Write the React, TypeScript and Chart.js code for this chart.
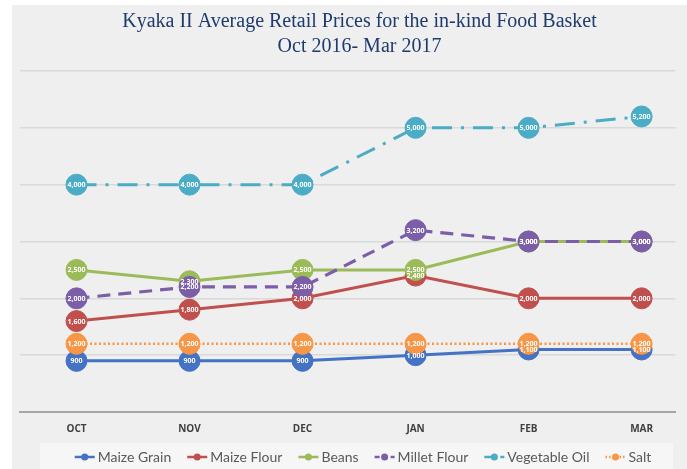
import React, { useEffect, useRef } from 'react';
import { Chart, registerables } from 'chart.js';

Chart.register(...registerables);

const categories = ['OCT', 'NOV', 'DEC', 'JAN', 'FEB', 'MAR'];
const seriesNames = ['Maize Grain', 'Maize Flour', 'Beans', 'Millet Flour', 'Vegetable Oil', 'Salt'];
const maizeGrain = [900, 900, 900, 1000, 1100, 1100];
const maizeFlour = [1600, 1800, 2000, 2400, 2000, 2000];
const beans = [2500, 2300, 2500, 2500, 3000, 3000];
const milletFlour = [2000, 2200, 2200, 3200, 3000, 3000];
const vegetableOil = [4000, 4000, 4000, 5000, 5000, 5200];
const salt = [1200, 1200, 1200, 1200, 1200, 1200];
const yMin = 0;
const yMax = 6000;
const yStep = 1000;
const titleLines = ['Kyaka II Average Retail Prices for the in-kind Food Basket', 'Oct 2016- Mar 2017'];

const seriesValues = [maizeGrain, maizeFlour, beans, milletFlour, vegetableOil, salt];
const seriesColors = ['#4472c4', '#c0504d', '#9bbb59', '#7b5ea7', '#4bacc6', '#f79646'];
const seriesDash: number[][] = [[], [], [], [13, 8], [20, 9, 3, 9], [2, 2.5]];
const legendDash: number[][] = [[], [], [], [5, 3], [8, 3, 2, 3], [1.5, 2]];
const seriesWidth = [3, 3, 3, 3.2, 3, 2.5];

const backgroundPlugin = {
  id: 'panelBackground',
  beforeDraw(chart: any) {
    const { ctx, width, height } = chart;
    ctx.save();
    ctx.fillStyle = '#ffffff';
    ctx.fillRect(0, 0, width, height);
    ctx.fillStyle = '#efefef';
    ctx.fillRect(12, 5, width - 12, height - 5);
    ctx.fillStyle = '#f6f6f6';
    ctx.fillRect(40, 443, 633, height - 443);
    ctx.restore();
  },
};

const titleShiftPlugin = {
  id: 'titleShift',
  afterLayout(chart: any) {
    const t = chart.titleBlock;
    if (t) {
      t.left += 20;
    }
  },
};

const dataLabelPlugin = {
  id: 'pointValueLabels',
  afterDatasetsDraw(chart: any) {
    const ctx = chart.ctx;
    ctx.save();
    ctx.font = 'bold 7px "Open Sans"';
    ctx.fillStyle = '#ffffff';
    ctx.textAlign = 'center';
    ctx.textBaseline = 'middle';
    chart.data.datasets.forEach((ds: any, i: number) => {
      const meta = chart.getDatasetMeta(i);
      meta.data.forEach((el: any, j: number) => {
        const v = ds.data[j].y;
        ctx.fillText(v.toLocaleString('en-US'), el.x, el.y + 0.5);
      });
    });
    ctx.restore();
  },
};

const legendPlugin = {
  id: 'lineMarkerLegend',
  afterDraw(chart: any) {
    const ctx = chart.ctx;
    ctx.save();
    ctx.font = '14px Lato';
    const iconW = 20;
    const gapIcon = 3;
    const gapItem = 16;
    const items = chart.data.datasets.map((ds: any, i: number) => ({
      label: ds.label as string,
      w: ctx.measureText(ds.label).width,
      color: seriesColors[i],
      dash: legendDash[i],
    }));
    const total =
      items.reduce((s: number, it: any) => s + iconW + gapIcon + it.w, 0) + gapItem * (items.length - 1);
    let x = 363 - total / 2;
    const y = 457;
    items.forEach((it: any) => {
      ctx.strokeStyle = it.color;
      ctx.lineWidth = 2.5;
      ctx.setLineDash(it.dash);
      ctx.beginPath();
      ctx.moveTo(x, y);
      ctx.lineTo(x + iconW, y);
      ctx.stroke();
      ctx.setLineDash([]);
      ctx.fillStyle = it.color;
      ctx.beginPath();
      ctx.arc(x + iconW / 2, y, 3.5, 0, Math.PI * 2);
      ctx.fill();
      ctx.fillStyle = '#595959';
      ctx.textAlign = 'left';
      ctx.textBaseline = 'middle';
      ctx.fillText(it.label, x + iconW + gapIcon, y + 0.5);
      x += iconW + gapIcon + it.w + gapItem;
    });
    ctx.restore();
  },
};

export default function App() {
  const canvasRef = useRef<HTMLCanvasElement | null>(null);

  useEffect(() => {
    document.body.style.margin = '0';
    const canvas = canvasRef.current;
    if (!canvas) return;
    const datasets = seriesNames.map((name, i) => ({
      label: name,
      data: seriesValues[i].map((v, j) => ({ x: j, y: v })),
      borderColor: seriesColors[i],
      backgroundColor: seriesColors[i],
      borderWidth: seriesWidth[i],
      borderDash: seriesDash[i],
      pointRadius: 10.5,
      pointHoverRadius: 10.5,
      pointBackgroundColor: seriesColors[i],
      pointBorderColor: seriesColors[i],
      pointBorderWidth: 1,
      tension: 0,
      fill: false,
      order: seriesNames.length - i,
    }));

    const chart = new Chart(canvas, {
      type: 'line',
      data: { datasets },
      plugins: [backgroundPlugin, titleShiftPlugin, dataLabelPlugin, legendPlugin],
      options: {
        responsive: false,
        animation: false,
        devicePixelRatio: 1,
        layout: { padding: { left: 20, right: 8, top: 0, bottom: 23 } },
        plugins: {
          legend: { display: false },
          tooltip: { enabled: false },
          title: {
            display: true,
            text: titleLines,
            color: '#1f3b6e',
            font: { family: '"Liberation Serif", serif', size: 20, weight: 'normal', lineHeight: 1.26 },
            padding: { top: 9, bottom: 11.6 },
          },
        },
        scales: {
          x: {
            type: 'linear',
            min: -0.5,
            max: 5.3,
            grid: { display: false, drawTicks: false },
            border: { display: true, color: '#a6a6a6', width: 2 },
            afterBuildTicks: (axis: any) => {
              axis.ticks = categories.map((_, i) => ({ value: i }));
            },
            ticks: {
              padding: 11,
              color: '#404040',
              font: { family: '"Open Sans"', size: 10, weight: 'bold' },
              callback: (v: any) => categories[v] ?? '',
            },
          },
          y: {
            min: yMin,
            max: yMax,
            ticks: { display: false, stepSize: yStep },
            grid: { color: '#d9d9d9', lineWidth: 1.5, drawTicks: false },
            border: { display: false },
          },
        },
      },
    } as any);
    return () => chart.destroy();
  }, []);

  return (
    <div style={{ width: 687, height: 469 }}>
      <canvas ref={canvasRef} width={687} height={469} style={{ display: 'block' }} />
    </div>
  );
}
